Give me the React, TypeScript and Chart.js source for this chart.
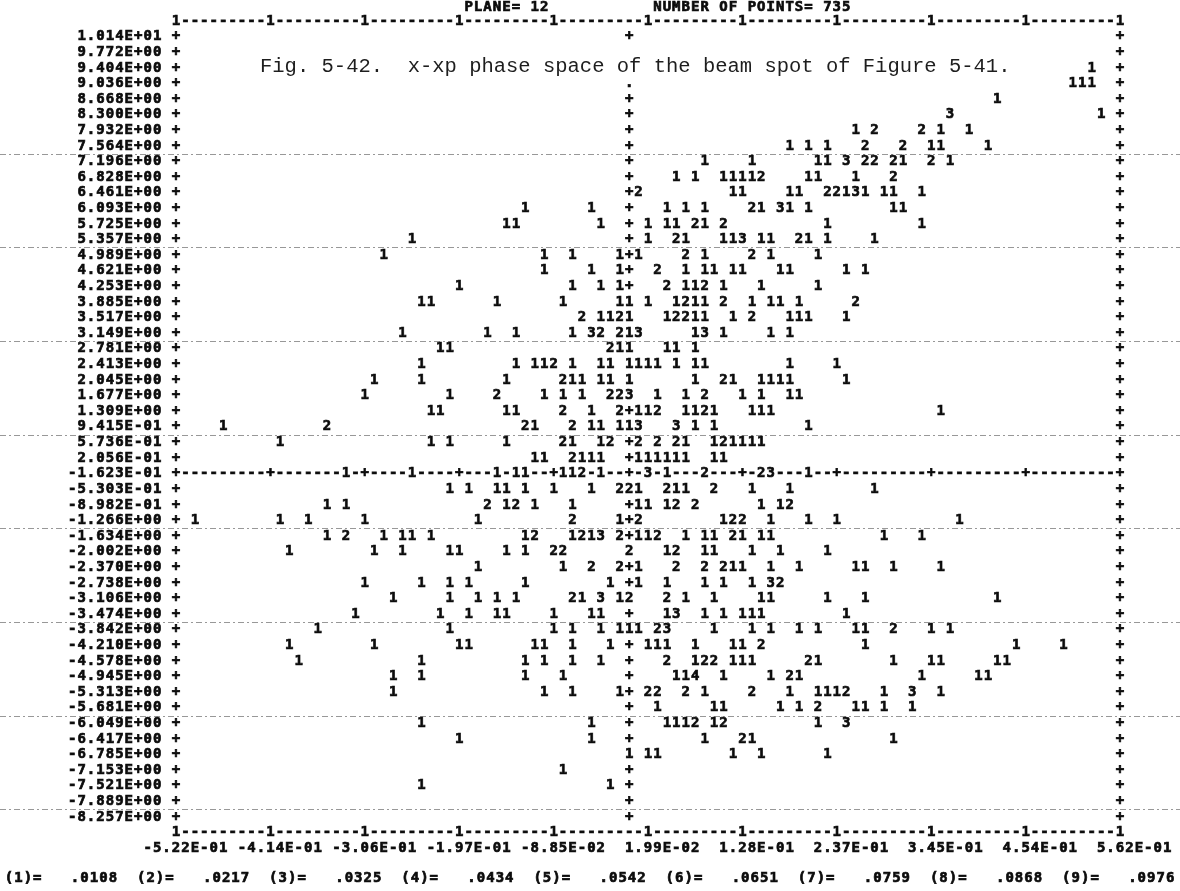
import React, { useEffect, useRef } from "react";
import { Chart, registerables } from "chart.js";
Chart.register(...registerables);

// ---------- data ----------
const TITLE_PLANE = "PLANE= 12";
const TITLE_POINTS = "NUMBER OF POINTS= 735";
const CAPTION = "Fig. 5-42.  x-xp phase space of the beam spot of Figure 5-41.";

const ROW_LABELS = [
  "1.014E+01", "9.772E+00", "9.404E+00", "9.036E+00", "8.668E+00", "8.300E+00",
  "7.932E+00", "7.564E+00", "7.196E+00", "6.828E+00", "6.461E+00", "6.093E+00",
  "5.725E+00", "5.357E+00", "4.989E+00", "4.621E+00", "4.253E+00", "3.885E+00",
  "3.517E+00", "3.149E+00", "2.781E+00", "2.413E+00", "2.045E+00", "1.677E+00",
  "1.309E+00", "9.415E-01", "5.736E-01", "2.056E-01", "-1.623E-01", "-5.303E-01",
  "-8.982E-01", "-1.266E+00", "-1.634E+00", "-2.002E+00", "-2.370E+00", "-2.738E+00",
  "-3.106E+00", "-3.474E+00", "-3.842E+00", "-4.210E+00", "-4.578E+00", "-4.945E+00",
  "-5.313E+00", "-5.681E+00", "-6.049E+00", "-6.417E+00", "-6.785E+00", "-7.153E+00",
  "-7.521E+00", "-7.889E+00", "-8.257E+00",
];

const X_TICK_LABELS = [
  "-5.22E-01", "-4.14E-01", "-3.06E-01", "-1.97E-01", "-8.85E-02", "1.99E-02",
  "1.28E-01", "2.37E-01", "3.45E-01", "4.54E-01", "5.62E-01",
];

const LEGEND_KEYS = ["(1)=", "(2)=", "(3)=", "(4)=", "(5)=", "(6)=", "(7)=", "(8)=", "(9)="];
const LEGEND_VALUES = [".0108", ".0217", ".0325", ".0434", ".0542", ".0651", ".0759", ".0868", ".0976"];

// printer columns across the frame (0 .. 100) and the zero lines
const COLUMNS = 100;
const AXIS_COL = 48;
const AXIS_ROW = 28;

// counts printed in each row: "column:digits" (digits occupy consecutive columns)
const ROW_MARKS = [
  "",
  "",
  "97:1",
  "95:111",
  "87:1",
  "82:3 98:1",
  "72:1 74:2 79:2 81:1 84:1",
  "65:1 67:1 69:1 73:2 77:2 80:11 86:1",
  "56:1 61:1 68:11 71:3 73:22 76:21 80:2 82:1",
  "53:1 55:1 58:11112 67:11 72:1 76:2",
  "49:2 59:11 65:11 69:22131 75:11 79:1",
  "37:1 44:1 52:1 54:1 56:1 61:21 64:31 67:1 76:11",
  "35:11 45:1 50:1 52:11 55:21 58:2 69:1 79:1",
  "25:1 50:1 53:21 58:113 62:11 66:21 69:1 74:1",
  "22:1 39:1 42:1 47:1 49:1 54:2 56:1 61:2 63:1 68:1",
  "39:1 44:1 47:1 51:2 54:1 56:11 59:11 64:11 71:1 73:1",
  "30:1 42:1 45:1 47:1 52:2 54:112 58:1 62:1 68:1",
  "26:11 34:1 41:1 47:11 50:1 53:1211 58:2 61:1 63:11 66:1 72:2",
  "43:2 45:11 47:21 52:12211 59:1 61:2 65:111 71:1",
  "24:1 33:1 36:1 42:1 44:32 47:213 55:13 58:1 63:1 65:1",
  "28:11 46:211 52:11 55:1",
  "26:1 36:1 38:112 42:1 45:11 48:1111 53:1 55:11 65:1 70:1",
  "21:1 26:1 35:1 41:211 45:11 48:1 55:1 58:21 62:1111 71:1",
  "20:1 29:1 34:2 39:1 41:1 43:1 46:223 51:1 54:1 56:2 60:1 62:1 65:11",
  "27:11 35:11 41:2 44:1 47:2 49:112 54:1121 61:111 81:1",
  "5:1 16:2 37:21 42:2 44:11 47:113 53:3 55:1 57:1 67:1",
  "11:1 27:1 29:1 35:1 41:21 45:12 49:2 51:2 53:21 57:121111",
  "38:11 42:2111 49:111111 57:11",
  "18:1 25:1 34:1 36:11 41:112 45:1 50:3 52:1 56:2 62:23 67:1",
  "29:1 31:1 34:11 37:1 40:1 44:1 47:221 52:211 57:2 61:1 65:1 74:1",
  "16:1 18:1 33:2 35:12 38:1 42:1 49:11 52:12 55:2 62:1 64:12",
  "2:1 11:1 14:1 20:1 32:1 42:2 47:1 49:2 58:122 63:1 67:1 70:1 83:1",
  "16:1 18:2 22:1 24:11 27:1 37:12 42:1213 47:2 49:112 54:1 56:11 59:21 62:11 75:1 79:1",
  "12:1 21:1 24:1 29:11 35:1 37:1 40:22 48:2 52:12 56:11 61:1 64:1 69:1",
  "32:1 41:1 44:2 47:2 49:1 53:2 56:2 58:211 63:1 66:1 72:11 76:1 81:1",
  "20:1 26:1 29:1 31:1 37:1 46:1 49:1 52:1 56:1 58:1 61:1 63:32",
  "23:1 29:1 32:1 34:1 36:1 42:21 45:3 47:12 52:2 54:1 57:1 62:11 69:1 73:1 87:1",
  "19:1 28:1 31:1 34:11 40:1 44:11 52:13 56:1 58:1 60:111 71:1",
  "15:1 29:1 40:1 42:1 45:1 47:111 51:23 57:1 61:1 63:1 66:1 68:1 72:11 76:2 80:1 82:1",
  "12:1 21:1 30:11 38:11 42:1 46:1 50:111 55:1 59:11 62:2 73:1 89:1 94:1",
  "13:1 26:1 37:1 39:1 42:1 45:1 52:2 55:122 59:111 67:21 76:1 80:11 87:11",
  "23:1 26:1 37:1 41:1 53:114 58:1 63:1 65:21 79:1 85:11",
  "23:1 39:1 42:1 47:1 50:22 54:2 56:1 61:2 65:1 68:1112 75:1 78:3 81:1",
  "51:1 57:11 64:1 66:1 68:2 72:11 75:1 78:1",
  "26:1 44:1 52:1112 57:12 68:1 71:3",
  "30:1 44:1 56:1 60:21 76:1",
  "48:1 50:11 59:1 62:1 69:1",
  "41:1",
  "26:1 46:1",
  "",
  "",
];

// ---------- helpers ----------
const X_MIN = parseFloat(X_TICK_LABELS[0]);
const X_MAX = parseFloat(X_TICK_LABELS[X_TICK_LABELS.length - 1]);
const Y_TOP = parseFloat(ROW_LABELS[0]);
const Y_BOT = parseFloat(ROW_LABELS[ROW_LABELS.length - 1]);
const LAST_ROW = ROW_LABELS.length - 1;

const colToX = (c: number) => X_MIN + (c * (X_MAX - X_MIN)) / COLUMNS;
const rowToY = (r: number) =>
  Number.isInteger(r) && r >= 0 && r <= LAST_ROW
    ? parseFloat(ROW_LABELS[r])
    : Y_TOP + (r * (Y_BOT - Y_TOP)) / LAST_ROW;

type Mark = { x: number; y: number; ch: string; col: number; row: number };

function buildMarks(): Mark[] {
  const out: Mark[] = [];
  ROW_MARKS.forEach((line, r) => {
    line
      .split(/\s+/)
      .filter(Boolean)
      .forEach((seg) => {
        const [c, d] = seg.split(":");
        const c0 = parseInt(c, 10);
        for (let i = 0; i < d.length; i++) {
          out.push({ x: colToX(c0 + i), y: rowToY(r), ch: d[i], col: c0 + i, row: r });
        }
      });
  });
  return out;
}

const PRINT_FONT = 'bold 14px "DejaVu Sans Mono", monospace';
const INK = "#0c0c0c";

const printerPlugin = {
  id: "printer",
  beforeDatasetsDraw(chart: any) {
    const { ctx, scales } = chart;
    const ys = scales.y;
    const W = chart.width;
    // paper ruling lines (every six printed lines)
    ctx.save();
    ctx.strokeStyle = "rgba(50,50,50,0.5)";
    ctx.lineWidth = 1;
    ctx.setLineDash([6, 3, 2, 3]);
    for (let r = 7; r <= LAST_ROW; r += 6) {
      const y = Math.round(ys.getPixelForValue(rowToY(r + 0.5))) + 0.5;
      ctx.beginPath();
      ctx.moveTo(0, y);
      ctx.lineTo(W, y);
      ctx.stroke();
    }
    ctx.restore();
  },
  afterDatasetsDraw(chart: any) {
    const { ctx, scales } = chart;
    const xs = scales.x;
    const ys = scales.y;
    const pitch = xs.getPixelForValue(colToX(1)) - xs.getPixelForValue(colToX(0));
    const px = (c: number) => xs.getPixelForValue(colToX(c));
    const py = (r: number) => ys.getPixelForValue(rowToY(r));

    const setInk = () => {
      ctx.font = PRINT_FONT;
      ctx.fillStyle = INK;
      ctx.strokeStyle = INK;
      ctx.lineWidth = 0.7;
      ctx.textAlign = "center";
      ctx.textBaseline = "middle";
    };
    const put = (ch: string, x: number, y: number) => {
      ctx.fillText(ch, x, y);
      ctx.strokeText(ch, x, y);
    };

    ctx.save();
    setInk();
    const putStr = (s: string, startCol: number, r: number) => {
      for (let i = 0; i < s.length; i++) {
        if (s[i] !== " ") put(s[i], px(startCol + i), py(r));
      }
    };

    const marks = chart.data.datasets[0].data as Mark[];
    const occupied = new Set<string>();
    marks.forEach((m) => occupied.add(m.row + ":" + m.col));

    // top and bottom frame lines
    for (let c = 0; c <= COLUMNS; c++) {
      const ch = c % 10 === 0 ? "1" : "-";
      put(ch, px(c), py(-1));
      put(ch, px(c), py(LAST_ROW + 1));
    }
    // side frames and zero axes
    for (let r = 0; r <= LAST_ROW; r++) {
      put("+", px(0), py(r));
      put("+", px(COLUMNS), py(r));
      if (r === AXIS_ROW) {
        for (let c = 1; c < COLUMNS; c++) {
          if (occupied.has(r + ":" + c)) continue;
          put(c % 10 === 0 || c === AXIS_COL ? "+" : "-", px(c), py(r));
        }
      } else if (r === 0 || r > 3) {
        if (!occupied.has(r + ":" + AXIS_COL)) put("+", px(AXIS_COL), py(r));
      } else if (r === 3) {
        put(".", px(AXIS_COL), py(r));
      }
    }
    // row labels (right aligned, one blank before the frame)
    ROW_LABELS.forEach((lab, r) => putStr(lab, -1 - lab.length, r));
    // column labels, right aligned in 10-column fields around the ticks
    X_TICK_LABELS.forEach((lab, k) => putStr(lab, k * 10 + 6 - lab.length, LAST_ROW + 2));
    // header
    putStr(TITLE_PLANE, 31, -1.85);
    putStr(TITLE_POINTS, 51, -1.85);
    // legend of symbol values
    const legendRow = LAST_ROW + 3.9;
    const legendStart = -(px(0) - 9) / pitch;
    LEGEND_KEYS.forEach((k, i) => {
      const base = legendStart + i * 14;
      putStr(k, base, legendRow);
      putStr(LEGEND_VALUES[i], base + 7, legendRow);
    });

    // the counts themselves, at the points placed by the scales
    const meta = chart.getDatasetMeta(0);
    meta.data.forEach((el: any, i: number) => {
      put(marks[i].ch, el.x, el.y);
    });
    ctx.restore();

    // typed caption laid over the printout
    ctx.save();
    ctx.font = '20.5px "Liberation Mono", "Courier New", monospace';
    ctx.fillStyle = "#1e1e1e";
    ctx.textAlign = "left";
    ctx.textBaseline = "alphabetic";
    ctx.fillText(CAPTION, px(0) + 8.9 * pitch, py(2) + 4);
    ctx.restore();
  },
};

export default function App() {
  const ref = useRef<HTMLCanvasElement | null>(null);
  useEffect(() => {
    document.body.style.margin = "0";
    const canvas = ref.current;
    if (!canvas) return;
    const marks = buildMarks();
    const chart = new Chart(canvas, {
      type: "scatter",
      data: {
        datasets: [
          {
            label: "counts",
            data: marks as any,
            pointRadius: 0,
            pointHoverRadius: 0,
            showLine: false,
          },
        ],
      },
      options: {
        animation: false,
        responsive: false,
        maintainAspectRatio: false,
        devicePixelRatio: 1,
        events: [],
        layout: { padding: { left: 176, right: 60, top: 36.7, bottom: 74 } },
        plugins: { legend: { display: false }, tooltip: { enabled: false }, title: { display: false } },
        scales: {
          x: { type: "linear", min: X_MIN, max: X_MAX, display: false },
          y: { type: "linear", min: Y_BOT, max: Y_TOP, display: false },
        },
      },
      plugins: [printerPlugin],
    });
    return () => chart.destroy();
  }, []);
  return (
    <div style={{ width: 1180, height: 891, background: "#fff" }}>
      <canvas ref={ref} width={1180} height={891} style={{ display: "block" }} />
    </div>
  );
}
